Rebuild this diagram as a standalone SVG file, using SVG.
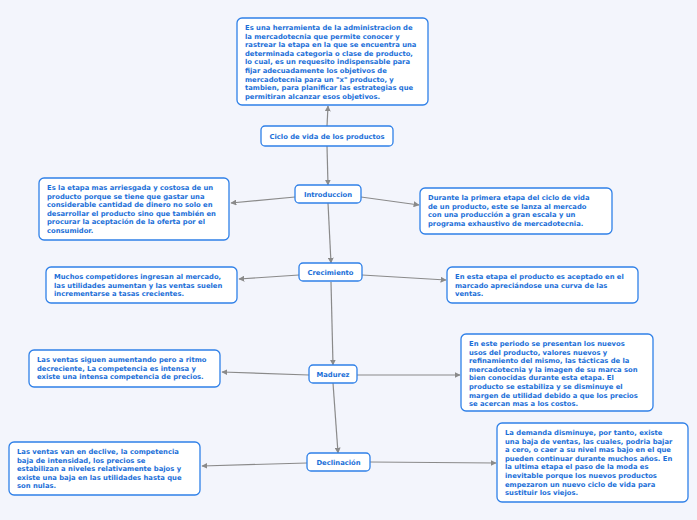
<svg xmlns="http://www.w3.org/2000/svg" width="697" height="520" viewBox="0 0 697 520">
<style>
.bx{fill:#fff;stroke:#2f80e8;stroke-width:1.3}
.t{font-family:"DejaVu Sans",Verdana,sans-serif;font-weight:bold;font-size:6.8px;fill:#1b6fd8}
.c{text-anchor:middle}
.ln{stroke:#8a8a8a;stroke-width:1.2;fill:none;marker-end:url(#ar)}
</style>
<defs>
<marker id="ar" viewBox="0 0 10 10" refX="9" refY="5" markerWidth="6" markerHeight="6" orient="auto" markerUnits="userSpaceOnUse">
<path d="M0,0 L10,5 L0,10 z" fill="#8a8a8a"/>
</marker>
</defs>
<rect width="697" height="520" fill="#f3f5fc"/>
<g id="connectors">
<line class="ln" x1="327" y1="126" x2="328" y2="106"/>
<line class="ln" x1="327" y1="146" x2="328" y2="185"/>
<line class="ln" x1="295" y1="197" x2="231" y2="203"/>
<line class="ln" x1="361" y1="197" x2="419" y2="205"/>
<line class="ln" x1="328" y1="203" x2="331" y2="263"/>
<line class="ln" x1="299" y1="275" x2="239" y2="279"/>
<line class="ln" x1="362" y1="275" x2="446" y2="280"/>
<line class="ln" x1="331" y1="282" x2="333" y2="365"/>
<line class="ln" x1="309" y1="375" x2="222" y2="372"/>
<line class="ln" x1="357" y1="375" x2="460" y2="375"/>
<line class="ln" x1="333" y1="383" x2="338" y2="453"/>
<line class="ln" x1="307" y1="463" x2="202" y2="466"/>
<line class="ln" x1="370" y1="462" x2="496" y2="463"/>
</g>
<g id="definicion">
<rect class="bx" x="237" y="18" width="191" height="87" rx="5"/>
<text class="t" x="245" y="30">
<tspan x="245">Es una herramienta de la administracion de</tspan>
<tspan x="245" dy="8.6">la mercadotecnia que permite conocer y</tspan>
<tspan x="245" dy="8.6">rastrear la etapa en la que se encuentra una</tspan>
<tspan x="245" dy="8.6">determinada categoria o clase de producto,</tspan>
<tspan x="245" dy="8.6">lo cual, es un requesito indispensable para</tspan>
<tspan x="245" dy="8.6">fijar adecuadamente los objetivos de</tspan>
<tspan x="245" dy="8.6">mercadotecnia para un "x" producto, y</tspan>
<tspan x="245" dy="8.6">tambien, para planificar las estrategias que</tspan>
<tspan x="245" dy="8.6">permitiran alcanzar esos objetivos.</tspan>
</text>
</g>
<g id="ciclo">
<rect class="bx" x="261" y="126" width="132" height="20" rx="4"/>
<text class="t c" x="327" y="138.5">Ciclo de vida de los productos</text>
</g>
<g id="introduccion">
<rect class="bx" x="295" y="185" width="66" height="18" rx="4"/>
<text class="t c" x="328" y="196.5">Introduccion</text>
</g>
<g id="intro-izq">
<rect class="bx" x="39" y="178" width="190" height="62" rx="5"/>
<text class="t" x="47" y="190">
<tspan x="47">Es la etapa mas arriesgada y costosa de un</tspan>
<tspan x="47" dy="8.6">producto porque se tiene que gastar una</tspan>
<tspan x="47" dy="8.6">considerable cantidad de dinero no solo en</tspan>
<tspan x="47" dy="8.6">desarrollar el producto sino que también en</tspan>
<tspan x="47" dy="8.6">procurar la aceptación de la oferta por el</tspan>
<tspan x="47" dy="8.6">consumidor.</tspan>
</text>
</g>
<g id="intro-der">
<rect class="bx" x="420" y="188" width="192" height="46" rx="5"/>
<text class="t" x="428" y="200">
<tspan x="428">Durante la primera etapa del ciclo de vida</tspan>
<tspan x="428" dy="8.6">de un producto, este se lanza al mercado</tspan>
<tspan x="428" dy="8.6">con una producción a gran escala y un</tspan>
<tspan x="428" dy="8.6">programa exhaustivo de mercadotecnia.</tspan>
</text>
</g>
<g id="crecimiento">
<rect class="bx" x="299" y="263" width="63" height="18" rx="4"/>
<text class="t c" x="330.5" y="274.5">Crecimiento</text>
</g>
<g id="crec-izq">
<rect class="bx" x="46" y="267" width="191" height="36" rx="5"/>
<text class="t" x="54" y="279">
<tspan x="54">Muchos competidores ingresan al mercado,</tspan>
<tspan x="54" dy="8.6">las utilidades aumentan y las ventas suelen</tspan>
<tspan x="54" dy="8.6">incrementarse a tasas crecientes.</tspan>
</text>
</g>
<g id="crec-der">
<rect class="bx" x="447" y="267" width="191" height="36" rx="5"/>
<text class="t" x="455" y="279">
<tspan x="455">En esta etapa el producto es aceptado en el</tspan>
<tspan x="455" dy="8.6">marcado apreciándose una curva de las</tspan>
<tspan x="455" dy="8.6">ventas.</tspan>
</text>
</g>
<g id="madurez">
<rect class="bx" x="309" y="365" width="48" height="18" rx="4"/>
<text class="t c" x="333" y="376.5">Madurez</text>
</g>
<g id="mad-izq">
<rect class="bx" x="29" y="350" width="191" height="37" rx="5"/>
<text class="t" x="37" y="362">
<tspan x="37">Las ventas siguen aumentando pero a ritmo</tspan>
<tspan x="37" dy="8.6">decreciente, La competencia es intensa y</tspan>
<tspan x="37" dy="8.6">existe una intensa competencia de precios.</tspan>
</text>
</g>
<g id="mad-der">
<rect class="bx" x="461" y="334" width="192" height="77" rx="5"/>
<text class="t" x="469" y="346">
<tspan x="469">En este periodo se presentan los nuevos</tspan>
<tspan x="469" dy="8.6">usos del producto, valores nuevos y</tspan>
<tspan x="469" dy="8.6">refinamiento del mismo, las tácticas de la</tspan>
<tspan x="469" dy="8.6">mercadotecnia y la imagen de su marca son</tspan>
<tspan x="469" dy="8.6">bien conocidas durante esta etapa. El</tspan>
<tspan x="469" dy="8.6">producto se estabiliza y se disminuye el</tspan>
<tspan x="469" dy="8.6">margen de utilidad debido a que los precios</tspan>
<tspan x="469" dy="8.6">se acercan mas a los costos.</tspan>
</text>
</g>
<g id="declinacion">
<rect class="bx" x="307" y="453" width="63" height="18" rx="4"/>
<text class="t c" x="338.5" y="464.5">Declinación</text>
</g>
<g id="dec-izq">
<rect class="bx" x="9" y="442" width="191" height="53" rx="5"/>
<text class="t" x="17" y="454">
<tspan x="17">Las ventas van en declive, la competencia</tspan>
<tspan x="17" dy="8.6">baja de intensidad, los precios se</tspan>
<tspan x="17" dy="8.6">estabilizan a niveles relativamente bajos y</tspan>
<tspan x="17" dy="8.6">existe una baja en las utilidades hasta que</tspan>
<tspan x="17" dy="8.6">son nulas.</tspan>
</text>
</g>
<g id="dec-der">
<rect class="bx" x="497" y="423" width="191" height="79" rx="5"/>
<text class="t" x="505" y="435">
<tspan x="505">La demanda disminuye, por tanto, existe</tspan>
<tspan x="505" dy="8.6">una baja de ventas, las cuales, podria bajar</tspan>
<tspan x="505" dy="8.6">a cero, o caer a su nivel mas bajo en el que</tspan>
<tspan x="505" dy="8.6">pueden continuar durante muchos años. En</tspan>
<tspan x="505" dy="8.6">la ultima etapa el paso de la moda es</tspan>
<tspan x="505" dy="8.6">inevitable porque los nuevos productos</tspan>
<tspan x="505" dy="8.6">empezaron un nuevo ciclo de vida para</tspan>
<tspan x="505" dy="8.6">sustituir los viejos.</tspan>
</text>
</g>
</svg>
